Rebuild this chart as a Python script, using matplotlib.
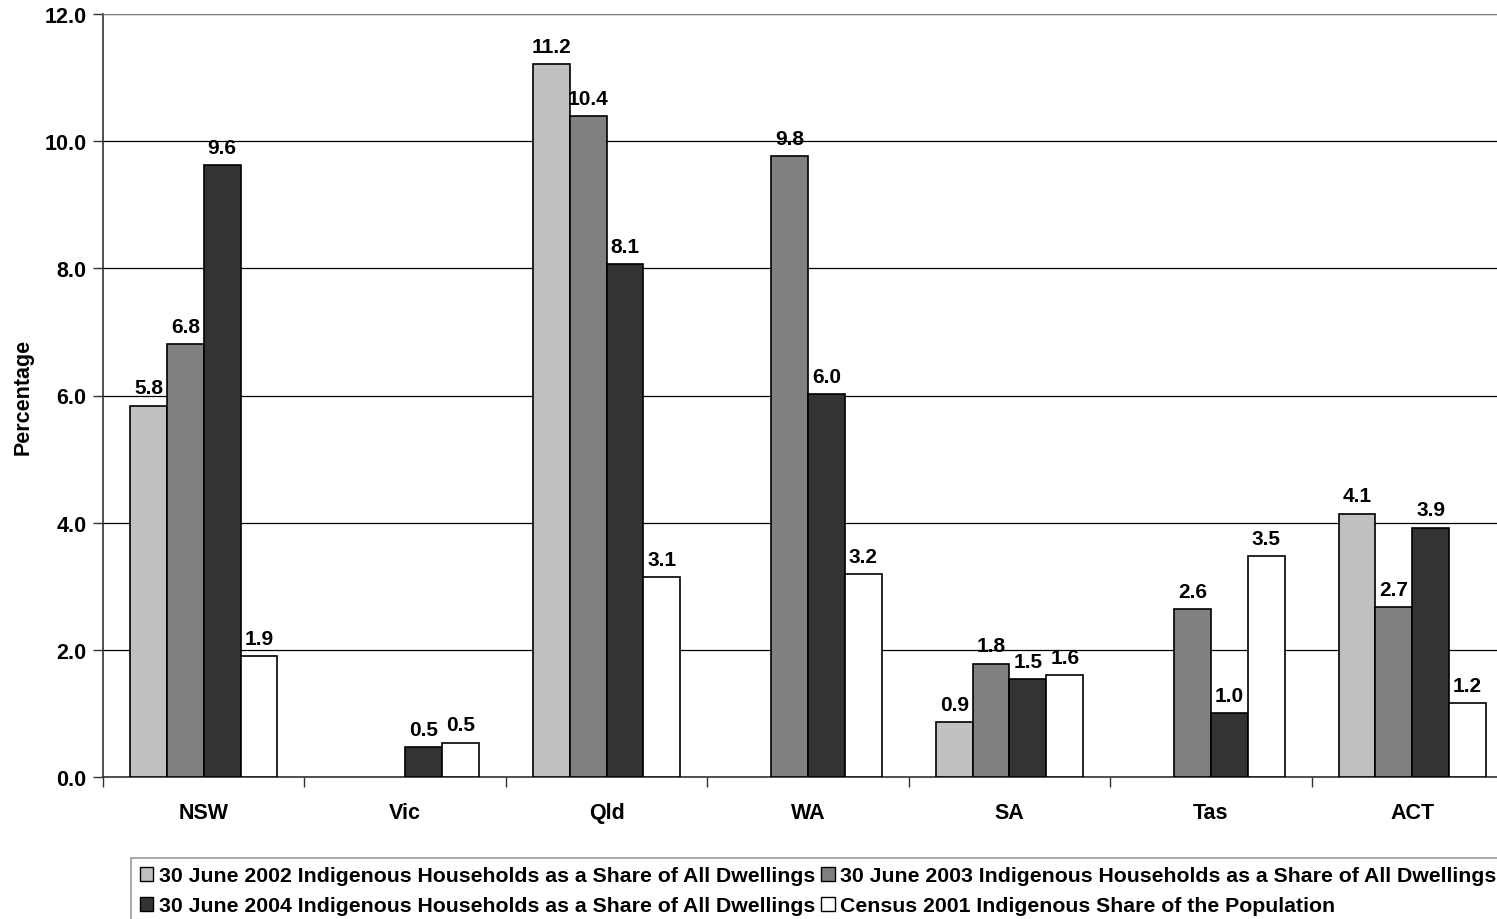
import matplotlib.pyplot as plt
import numpy as np
from matplotlib.patches import Patch

states = ['NSW', 'Vic', 'Qld', 'WA', 'SA', 'Tas', 'ACT']
series_names = [
    '30 June 2002 Indigenous Households as a Share of All Dwellings',
    '30 June 2003 Indigenous Households as a Share of All Dwellings',
    '30 June 2004 Indigenous Households as a Share of All Dwellings',
    'Census 2001 Indigenous Share of the Population',
]
share_2002 = [5.84, None, 11.21, None, 0.86, None, 4.14]
share_2003 = [6.81, None, 10.39, 9.76, 1.78, 2.64, 2.67]
share_2004 = [9.62, 0.47, 8.07, 6.02, 1.54, 1.00, 3.92]
census_2001 = [1.90, 0.54, 3.14, 3.19, 1.60, 3.47, 1.16]
colors = ['#C0C0C0', '#808080', '#333333', '#FFFFFF']

plt.rcParams['font.family'] = ['Liberation Sans', 'DejaVu Sans']
plt.rcParams['font.weight'] = 'bold'

fig = plt.figure(figsize=(14.97, 9.2), dpi=100)
ax = fig.add_axes([103/1497, 1 - 778/920, 1410/1497, (778 - 15)/920])

x = np.arange(len(states))
w = 0.183
all_series = [share_2002, share_2003, share_2004, census_2001]
for k, vals in enumerate(all_series):
    for i, v in enumerate(vals):
        if v is None:
            continue
        xpos = x[i] + (k - 1.5) * w
        ax.bar(xpos, v, width=w, color=colors[k], edgecolor='black', linewidth=1.2, zorder=3)
        ax.annotate('%.1f' % v, (xpos, v), xytext=(0, 6), textcoords='offset points',
                    ha='center', va='bottom', fontsize=15, fontweight='bold', zorder=4)

ax.set_xlim(-0.5, 6.5)
ax.set_ylim(0, 12)
ax.set_yticks(np.arange(0, 12.1, 2))
ax.set_yticklabels(['%.1f' % t for t in np.arange(0, 12.1, 2)], fontsize=15.5, fontweight='bold')
ax.set_xticks(x)
ax.set_xticklabels(states, fontsize=15.5, fontweight='bold')
ax.set_xticks(np.arange(-0.5, 7, 1), minor=True)
ax.tick_params(axis='x', which='major', length=0, pad=18)
ax.tick_params(axis='x', which='minor', length=7, width=1, color='#333333')
ax.tick_params(axis='y', length=7, width=1, color='#333333', pad=5)
ax.grid(axis='y', color='black', linewidth=0.9, zorder=0)
ax.spines['top'].set_color('#808080')
ax.spines['right'].set_visible(False)
ax.spines['left'].set_color('#333333')
ax.spines['bottom'].set_color('#333333')
ax.spines['left'].set_linewidth(1.2)
ax.spines['bottom'].set_linewidth(1.2)
ax.set_ylabel('Percentage', fontsize=15.5, fontweight='bold')
ax.yaxis.set_label_coords(-0.049, 0.5)

handles = [Patch(facecolor=c, edgecolor='black', linewidth=1) for c in colors]
order = [0, 2, 1, 3]
leg = fig.legend([handles[i] for i in order], [series_names[i] for i in order],
                 ncol=2, loc='upper left', bbox_to_anchor=(131/1497, 1 - 859/920),
                 fontsize=15.3, frameon=True, fancybox=False, handlelength=0.65,
                 handleheight=0.65, handletextpad=0.25, columnspacing=0.3,
                 labelspacing=0.5, borderpad=0.4, borderaxespad=0)
leg.get_frame().set_edgecolor('#808080')
leg.get_frame().set_linewidth(1.2)
for t in leg.get_texts():
    t.set_fontweight('bold')

fig.savefig('out.png', dpi=100)
